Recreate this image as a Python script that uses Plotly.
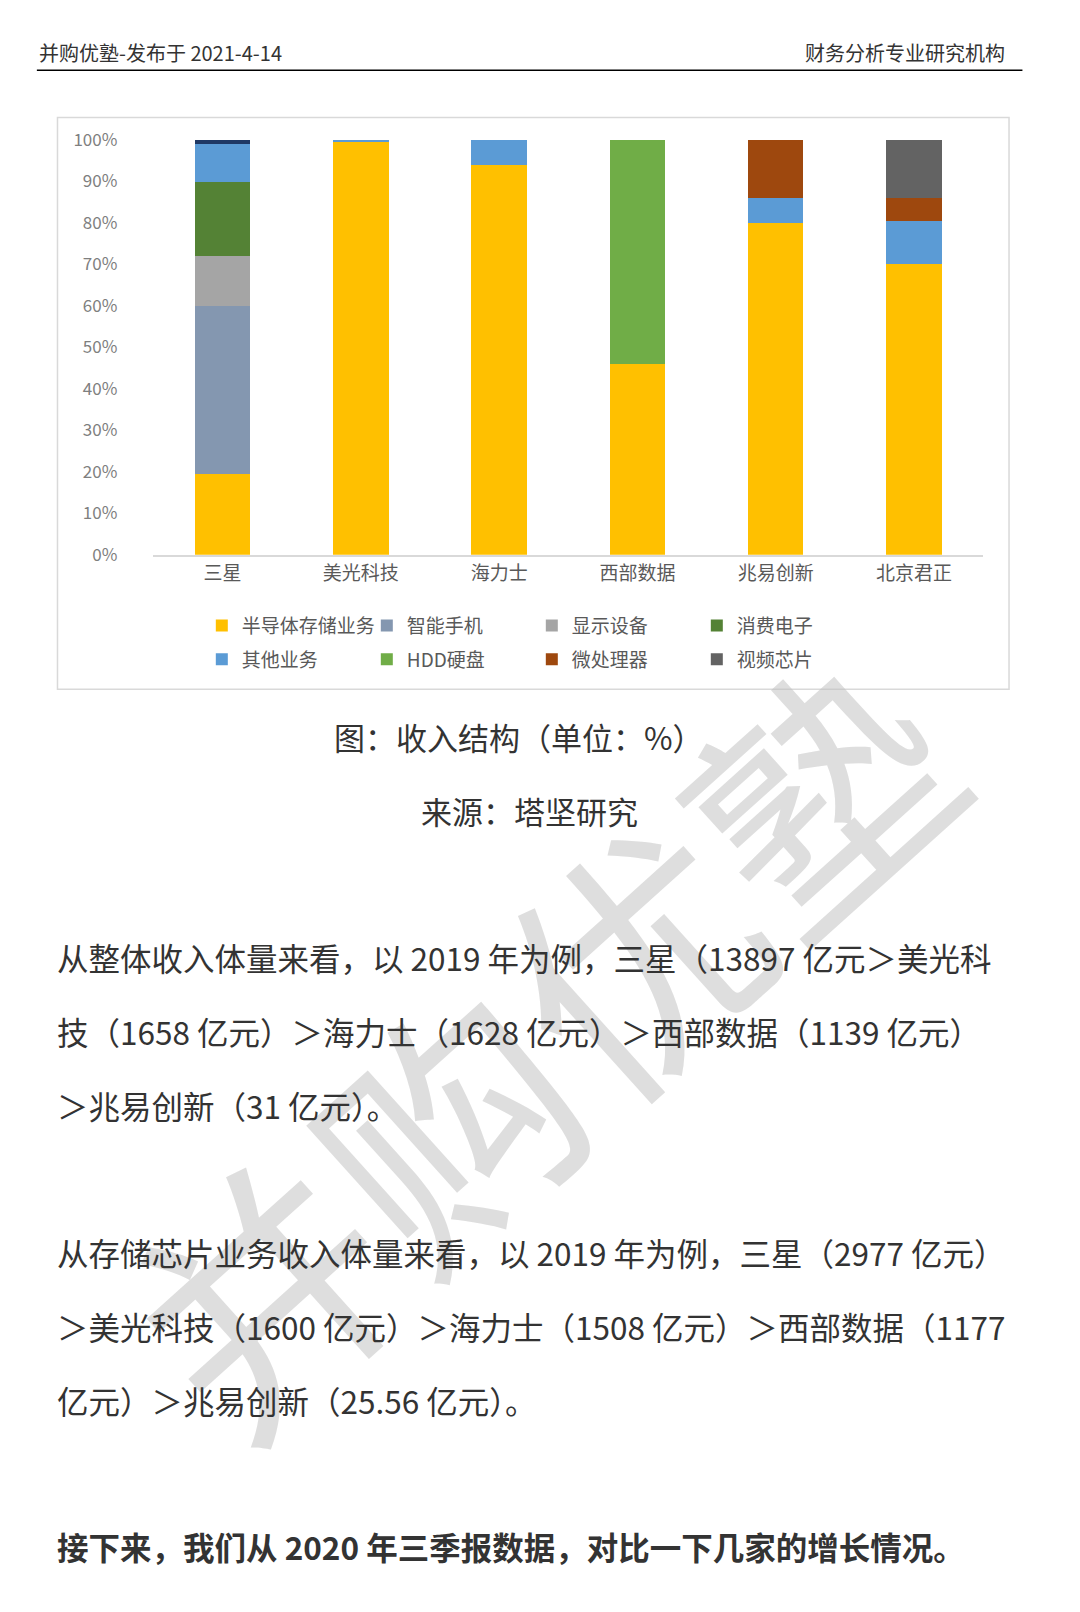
import plotly.graph_objects as go

companies = ["三星", "美光科技", "海力士", "西部数据", "兆易创新", "北京君正"]
semi     = [19.5, 99.5, 94, 46, 80, 70]
phone    = [40.5, 0, 0, 0, 0, 0]
display  = [12, 0, 0, 0, 0, 0]
consumer = [18, 0, 0, 0, 0, 0]
other    = [9, 0.5, 6, 0, 6, 10.5]
hdd      = [0, 0, 0, 54, 0, 0]
micro    = [0, 0, 0, 0, 14, 5.5]
video    = [0, 0, 0, 0, 0, 14]
misc     = [1, 0, 0, 0, 0, 0]
yticks = [0, 10, 20, 30, 40, 50, 60, 70, 80, 90, 100]

W, H = 1080, 1612
FONT = "Noto Sans CJK SC"
def px(x): return ((x - 9) / 0.970) / W
def py(y): return 1 - ((y - 22) / 0.959) / H

series = [
    ("半导体存储业务", semi, "#FFC000", "legend"),
    ("智能手机", phone, "#8497B0", "legend"),
    ("显示设备", display, "#A5A5A5", "legend"),
    ("消费电子", consumer, "#548235", "legend"),
    ("其他业务", other, "#5B9BD5", "legend2"),
    ("HDD硬盘", hdd, "#70AD47", "legend2"),
    ("微处理器", micro, "#9E480E", "legend2"),
    ("视频芯片", video, "#636363", "legend2"),
]
fig = go.Figure()
for name, vals, col, lg in series:
    fig.add_bar(x=companies, y=vals, name=name, marker_color=col, marker_line_width=0, legend=lg)
fig.add_bar(x=companies, y=misc, name="其他", marker_color="#1F3864", marker_line_width=0, showlegend=False)

legcommon = dict(orientation="h", xanchor="left", yanchor="middle", entrywidth=120,
                 font=dict(size=19, color="#595959"), itemwidth=30, traceorder="normal",
                 bgcolor="rgba(0,0,0,0)")
fig.update_layout(
    width=W, height=H, margin=dict(l=0, r=0, t=0, b=0),
    paper_bgcolor="white", plot_bgcolor="white", barmode="stack", bargap=0.6,
    font=dict(family=FONT, color="#595959"),
    xaxis=dict(domain=[px(150), px(955)], showline=True, linecolor="#d9d9d9", linewidth=2,
               tickfont=dict(size=19, color="#595959"), ticks=""),
    yaxis=dict(domain=[py(541), py(137)], range=[0, 100], tickvals=yticks,
               ticktext=[f"{v}%" for v in yticks], showgrid=False, zeroline=False,
               ticklabelstandoff=35, tickfont=dict(size=17, color="#7f7f7f")),
    legend=dict(x=px(197), y=py(610), **legcommon),
    legend2=dict(x=px(197), y=py(643), **legcommon),
)
shapes = [
    dict(type="rect", xref="paper", yref="paper", x0=px(57), x1=px(980), y0=py(672), y1=py(115),
         line=dict(color="#d9d9d9", width=1.5), layer="below"),
    dict(type="line", xref="paper", yref="paper", x0=px(37), x1=px(993), y0=py(69), y1=py(69),
         line=dict(color="black", width=1.5)),
]
fig.update_layout(shapes=shapes)

def ann(text, x, y, size, anchor="left", color="#333", bold=False):
    if bold: text = f"<b>{text}</b>"
    fig.add_annotation(text=text, x=px(x), y=py(y), xref="paper", yref="paper", xanchor=anchor,
                       yanchor="middle", showarrow=False, font=dict(family=FONT, size=size, color=color))

fig.add_annotation(text="并购优塾", x=px(520), y=py(1010), xref="paper", yref="paper", showarrow=False,
                   textangle=-42, font=dict(family=FONT, size=250, color="rgba(190,190,190,0.5)"))
ann("并购优塾-发布于 2021-4-14", 37, 52, 20)
ann("财务分析专业研究机构", 978, 52, 20, "right")
ann("图：收入结构（单位：%）", 505, 718, 31, "center")
ann("来源：塔坚研究", 515, 790, 31, "center")
lines = [
    ("从整体收入体量来看，以 2019 年为例，三星（13897 亿元＞美光科", 933),
    ("技（1658 亿元）＞海力士（1628 亿元）＞西部数据（1139 亿元）", 1005),
    ("＞兆易创新（31 亿元）。", 1077),
    ("从存储芯片业务收入体量来看，以 2019 年为例，三星（2977 亿元）", 1220),
    ("＞美光科技（1600 亿元）＞海力士（1508 亿元）＞西部数据（1177", 1292),
    ("亿元）＞兆易创新（25.56 亿元）。", 1364),
]
for t, y in lines:
    ann(t, 55, y, 31.5)
ann("接下来，我们从 2020 年三季报数据，对比一下几家的增长情况。", 55, 1507, 31.5, bold=True)

fig.write_html("out.html")
